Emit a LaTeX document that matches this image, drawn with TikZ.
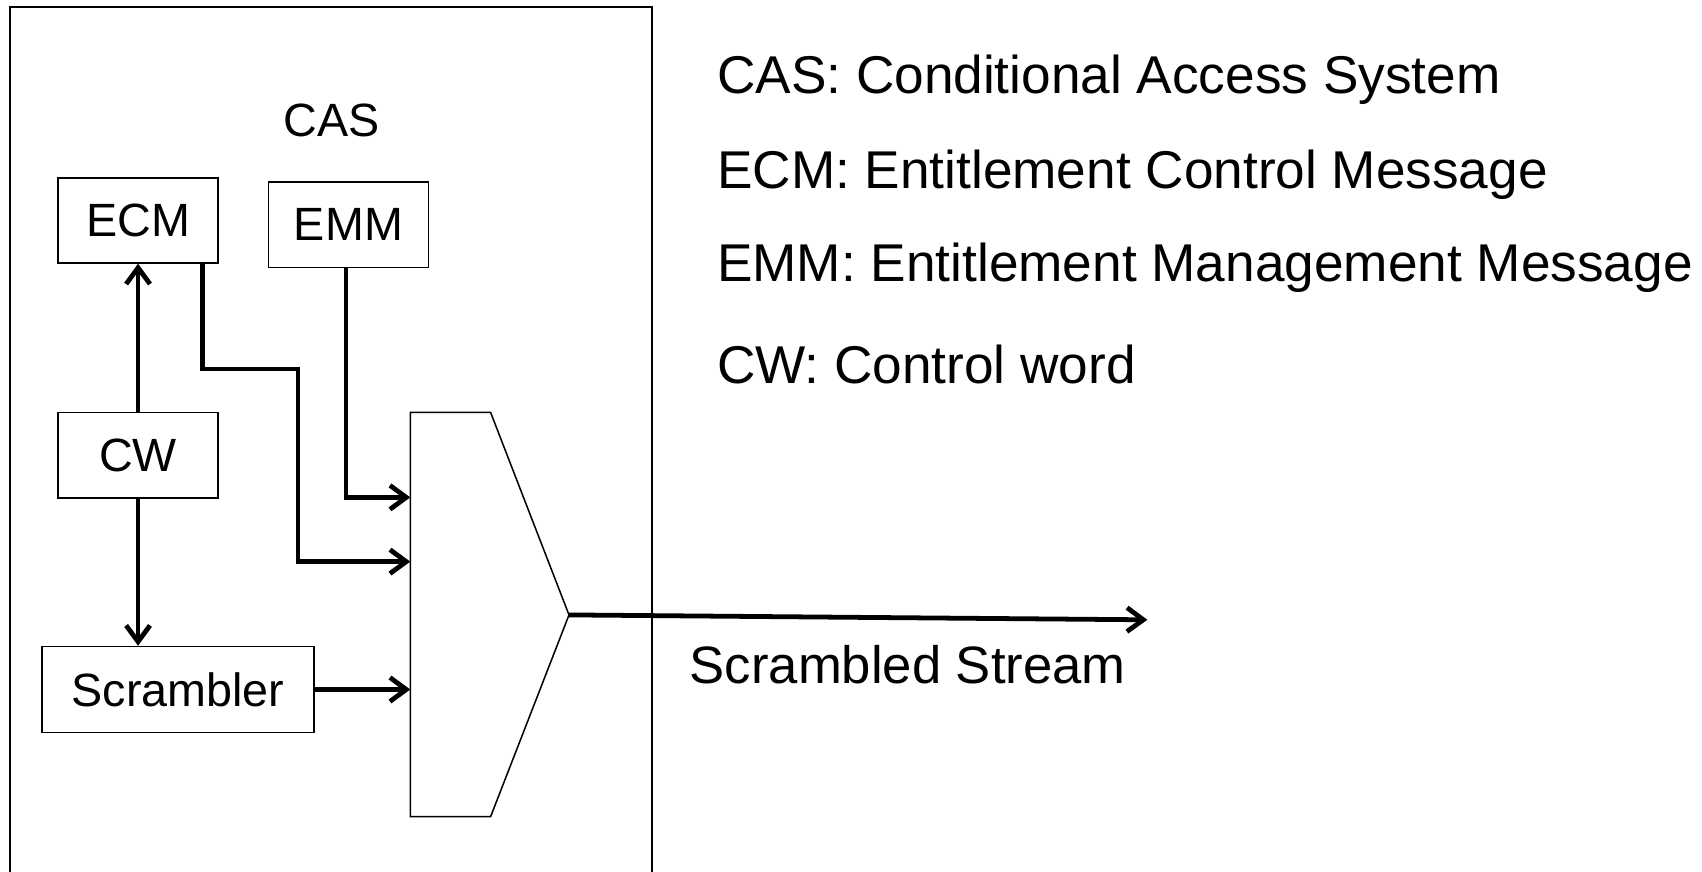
\documentclass[tikz,border=0pt]{standalone}
\usepackage{fontspec}
\setmainfont{Liberation Sans}
\usetikzlibrary{arrows.meta}
\begin{document}
\begin{tikzpicture}[x=1bp,y=-1bp,
  box/.style={draw, line width=1.6bp, minimum width=147.3bp, minimum height=78.5bp, inner sep=0pt, font=\fontsize{43bp}{50bp}\selectfont},
  conn/.style={line width=4.4bp, -{Straight Barb[length=15bp,width=22bp]}},
  legend/.style={anchor=base west, inner sep=0pt, font=\fontsize{49bp}{58bp}\selectfont},
  frame/.style={line width=1.6bp}]
\useasboundingbox (0,0) rectangle (1568,803);
% CAS frame (open at the bottom, clipped by the picture edge)
\draw[frame] (9.5,803) -- (9.5,6.5) -- (600.5,6.5) -- (600.5,803);
\node[inner sep=0pt, font=\fontsize{43bp}{50bp}\selectfont] (cas) at (305.5,110.5) {CAS};
% boxes
\node[box] (ecm) at (127.2,202.9) {ECM};
\node[box, minimum height=79bp] (emm) at (321,206.9) {EMM};
\node[box] (cw) at (127.2,419.2) {CW};
\node[box, minimum width=251.2bp, minimum height=79bp] (scr) at (164,635.2) {Scrambler};
% multiplexer shape
\draw[line width=1.4bp] (378,380) -- (452,380) -- (524.2,566.5) -- (452,752.3) -- (378,752.3) -- cycle;
\coordinate (in1) at (378,458.2);
\coordinate (in2) at (378,517.4);
\coordinate (in3) at (378,635.2);
\coordinate (mout) at (524.2,566.5);
\coordinate (outend) at (1057,571);
\coordinate (bend) at (274.5,340);
% connectors
\draw[conn] (cw.north) -- (ecm.south);
\draw[conn] (cw.south) -- (cw.south |- scr.north);
\draw[conn] ([xshift=-15bp]ecm.south east) |- (bend) |- (in2);
\draw[conn] ([xshift=-2.3bp]emm.south) |- (in1);
\draw[conn] (scr.east) -- (in3);
\draw[conn] (mout) -- (outend);
\node[anchor=base, inner sep=0pt, font=\fontsize{48.5bp}{58bp}\selectfont] (stream) at (836.3,629.5) {Scrambled Stream};
% legend
\node[legend] (l1) at (660.5,86) {CAS: Conditional Access System};
\node[legend] (l2) at (660.5,173.5) {ECM: Entitlement Control Message};
\node[legend] (l3) at (660.5,259.5) {EMM: Entitlement Management Message};
\node[legend] (l4) at (660.5,353) {CW: Control word};
\end{tikzpicture}
\end{document}
